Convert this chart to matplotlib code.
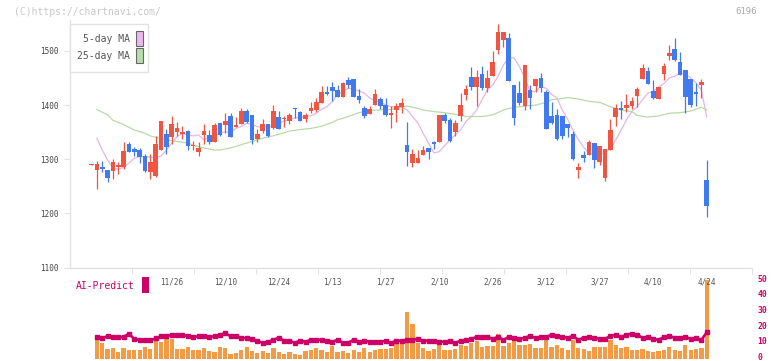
import numpy as np
import matplotlib
matplotlib.use('Agg')
import matplotlib.pyplot as plt
from matplotlib.patches import Rectangle

# daily candles (index 0..115)
opens = [1290, 1280, 1286, 1280, 1279, 1285, 1286, 1328, 1319, 1317, 1307, 1277, 1269, 1318, 1347, 1342,
         1351, 1346, 1352, 1325, 1314, 1344, 1345, 1332, 1367, 1363, 1380, 1360, 1365, 1389, 1382, 1338,
         1352, 1365, 1357, 1378, 1375, 1370, 1395, 1387, 1375, 1389, 1391, 1403, 1424, 1434, 1428, 1415,
         1447, 1448, 1417, 1395, 1384, 1400, 1411, 1400, 1381, 1391, 1397, 1327, 1294, 1294, 1308, 1321,
         1332, 1332, 1382, 1373, 1351, 1380, 1419, 1452, 1434, 1458, 1432, 1454, 1502, 1520, 1524, 1437,
         1423, 1399, 1428, 1436, 1450, 1424, 1380, 1382, 1380, 1365, 1347, 1280, 1308, 1308, 1330, 1295,
         1266, 1317, 1378, 1395, 1395, 1399, 1417, 1448, 1463, 1426, 1411, 1458, 1491, 1504, 1480, 1465,
         1448, 1424, 1437, 1262]
highs = [1291, 1297, 1297, 1280, 1300, 1295, 1331, 1332, 1323, 1321, 1309, 1310, 1343, 1371, 1356, 1380,
         1369, 1362, 1354, 1334, 1331, 1365, 1354, 1367, 1367, 1386, 1386, 1378, 1395, 1393, 1382, 1355,
         1374, 1365, 1400, 1389, 1379, 1386, 1395, 1389, 1385, 1406, 1413, 1435, 1435, 1443, 1437, 1442,
         1451, 1449, 1430, 1399, 1399, 1430, 1415, 1413, 1399, 1404, 1413, 1369, 1319, 1317, 1325, 1321,
         1334, 1382, 1386, 1376, 1373, 1423, 1437, 1471, 1465, 1472, 1465, 1500, 1550, 1535, 1533, 1437,
         1445, 1474, 1437, 1448, 1460, 1428, 1406, 1393, 1380, 1365, 1352, 1293, 1315, 1336, 1330, 1325,
         1319, 1375, 1402, 1408, 1421, 1415, 1434, 1476, 1471, 1447, 1434, 1478, 1511, 1524, 1498, 1465,
         1448, 1441, 1448, 1299]
lows = [1289, 1246, 1277, 1259, 1264, 1272, 1283, 1314, 1307, 1294, 1277, 1263, 1267, 1318, 1310, 1329,
        1343, 1338, 1318, 1317, 1307, 1329, 1329, 1331, 1343, 1348, 1341, 1359, 1365, 1367, 1329, 1331,
        1348, 1341, 1355, 1356, 1359, 1365, 1376, 1371, 1369, 1385, 1387, 1403, 1419, 1408, 1415, 1415,
        1432, 1415, 1404, 1377, 1384, 1400, 1393, 1380, 1358, 1369, 1386, 1288, 1285, 1294, 1308, 1301,
        1319, 1332, 1367, 1332, 1343, 1371, 1410, 1428, 1399, 1428, 1424, 1454, 1495, 1508, 1445, 1364,
        1400, 1391, 1393, 1424, 1424, 1356, 1365, 1335, 1338, 1341, 1299, 1266, 1295, 1308, 1284, 1290,
        1260, 1317, 1362, 1375, 1387, 1393, 1397, 1448, 1439, 1411, 1411, 1447, 1483, 1482, 1456, 1386,
        1397, 1399, 1413, 1194]
closes = [1290, 1291, 1283, 1266, 1295, 1290, 1315, 1314, 1314, 1305, 1279, 1295, 1328, 1371, 1322, 1366,
          1358, 1351, 1325, 1327, 1321, 1352, 1332, 1363, 1344, 1371, 1341, 1363, 1389, 1368, 1336, 1347,
          1365, 1343, 1389, 1356, 1377, 1382, 1392, 1371, 1381, 1395, 1406, 1424, 1421, 1426, 1415, 1441,
          1437, 1415, 1410, 1380, 1393, 1421, 1399, 1381, 1386, 1399, 1404, 1314, 1310, 1303, 1317, 1314,
          1328, 1382, 1371, 1334, 1367, 1400, 1430, 1434, 1452, 1432, 1450, 1480, 1535, 1535, 1445, 1376,
          1404, 1474, 1413, 1448, 1432, 1356, 1367, 1338, 1343, 1358, 1301, 1286, 1303, 1332, 1298, 1325,
          1319, 1354, 1395, 1391, 1400, 1408, 1430, 1469, 1439, 1413, 1434, 1472, 1496, 1483, 1456, 1415,
          1400, 1421, 1443, 1214]

# 5-day MA (days 1..115)
ma5 = [1339, 1317, 1299, 1283, 1282, 1285, 1293, 1302, 1305, 1305, 1304, 1303, 1306, 1317, 1330,
       1342, 1348, 1345, 1343, 1345, 1336, 1341, 1343, 1349, 1350, 1351, 1357, 1361, 1366, 1365,
       1360, 1360, 1360, 1362, 1366, 1371, 1373, 1376, 1378, 1379, 1380, 1385, 1392, 1397, 1406,
       1419, 1425, 1431, 1430, 1426, 1422, 1413, 1408, 1406, 1400, 1397, 1397, 1396, 1391, 1379,
       1367, 1348, 1330, 1312, 1314, 1325, 1336, 1345, 1354, 1370, 1379, 1391, 1410, 1428, 1437,
       1453, 1474, 1488, 1487, 1471, 1450, 1425, 1425, 1434, 1431, 1420, 1413, 1391, 1374, 1354,
       1336, 1322, 1311, 1308, 1310, 1312, 1320, 1336, 1354, 1373, 1388, 1397, 1410, 1422, 1425,
       1433, 1440, 1450, 1453, 1459, 1458, 1450, 1441, 1428, 1378]

# 25-day MA
ma25_days = [1, 3, 4, 6, 8, 10, 11, 14, 16, 18, 19, 21, 23, 24, 26, 27, 29, 30, 32, 33, 35, 37, 39,
             41, 43, 45, 46, 48, 50, 52, 54, 56, 58, 59, 61, 62, 64, 66, 68, 70, 72, 73, 75, 77, 79,
             81, 83, 85, 86, 88, 89, 91, 93, 95, 97, 99, 101, 102, 104, 106, 108, 110, 112, 114, 115]
ma25 = [1392, 1382, 1372, 1364, 1354, 1348, 1343, 1336, 1333, 1330, 1326, 1321, 1317, 1317, 1321,
        1324, 1330, 1333, 1339, 1341, 1346, 1352, 1355, 1357, 1361, 1368, 1373, 1379, 1386, 1390,
        1391, 1392, 1397, 1398, 1394, 1391, 1388, 1386, 1383, 1379, 1379, 1379, 1382, 1391, 1396,
        1398, 1400, 1405, 1410, 1412, 1414, 1411, 1407, 1405, 1397, 1391, 1388, 1381, 1378, 1380,
        1385, 1386, 1389, 1396, 1391]

# lower panel (days 1..115)
volume = [13.8, 10, 6.2, 6.9, 4.4, 6.9, 5.6, 5.6, 5.6, 7.5, 6.2, 12.5, 10.7, 12.5, 12.8, 6.2, 6.2,
          7.5, 5.6, 5.6, 6.9, 5, 4.4, 7.5, 6.9, 3.1, 3.8, 5.6, 7.5, 5, 3.8, 5, 3.8, 6.9, 4.4, 3.1,
          4.4, 3.1, 2.5, 5, 5.6, 6.9, 5.6, 4.4, 8, 4.4, 5, 3.8, 5.6, 4.4, 6.9, 4.4, 5.6, 6.2, 6.2,
          6.9, 9.4, 11.9, 29.9, 21.9, 10, 6.9, 5, 6.2, 8.8, 5.6, 5.6, 6.2, 8.8, 8.1, 10, 11.2, 7.5,
          8.1, 8.1, 15.6, 8.1, 10, 14.4, 8.8, 8.8, 9.4, 6.9, 6.9, 11.9, 7.5, 8.8, 6.9, 5.6, 11.9,
          6.9, 6.2, 5, 7.5, 7.5, 7.5, 11.9, 8.8, 6.9, 7.5, 5.6, 5.6, 6.2, 5, 4.4, 5, 5.6, 7.5, 5.6,
          5, 8.8, 5.6, 6.2, 6.9, 50]
ai_predict = [12.5, 11.7, 12.9, 12.3, 12.3, 12.5, 14.4, 11.2, 10.4, 10.4, 10.4, 11.5, 12.9, 12.9,
              13.8, 13.8, 13.8, 12.9, 12.3, 12.9, 12.9, 12.3, 13.1, 13.8, 14.8, 12.9, 12.9, 11.9,
              11.7, 11, 9.8, 8.8, 9.4, 10.6, 11.9, 10, 10, 8.8, 10, 9.4, 10.6, 10.6, 10.6, 10, 9.4,
              10.6, 8.8, 8.8, 10.6, 9.4, 10, 9.4, 9.4, 9.4, 10, 8.8, 10, 10, 10.6, 10.6, 11.2, 10,
              10, 10, 9.4, 9.4, 10, 8.8, 10, 10.6, 11.2, 12.5, 12.5, 12.5, 11.2, 12.5, 10.6, 12.5,
              11.9, 11.2, 11.9, 13.1, 11.9, 12.5, 12.5, 13.8, 13.1, 12.5, 11.9, 13.1, 10.6, 11.9,
              12.5, 11.9, 11.2, 11.2, 13.1, 13.8, 12.5, 13.8, 14.4, 13.8, 11.9, 12.5, 11.2, 10.6,
              12.5, 13.1, 11.9, 11.9, 12.5, 11.2, 11.9, 10.6, 15.4]

date_days = [15, 25, 35, 45, 55, 65, 75, 85, 95, 105, 115]
date_labels = ['11/26', '12/10', '12/24', '1/13', '1/27', '2/10', '2/26', '3/12', '3/27', '4/10', '4/24']

UP, DOWN = '#f05542', '#4179ef'
MONO = 'DejaVu Sans Mono'
W, H = 772, 361


def fx(x):
    return x / W


def fy(y):
    return 1 - y / H


days = np.arange(len(opens))
o, h, l, c = map(np.array, (opens, highs, lows, closes))
colors = [UP if cc >= oo else DOWN for oo, cc in zip(o, c)]
xlim = (-4.02, 123.46)

fig = plt.figure(figsize=(W / 100, H / 100), dpi=100)
ax2 = fig.add_axes([fx(70), fy(356.5), fx(682), 78.5 / H])
ax = fig.add_axes([fx(70), fy(267.7), fx(682), 247.7 / H])
ax2.patch.set_alpha(0)

# moving averages under the candles
ax.plot(days[1:], ma5, color='#e6b4ea', lw=0.9, zorder=1)
ax.plot(ma25_days, ma25, color='#b6dca6', lw=0.9, zorder=1)

ax.vlines(days, l, h, colors=colors, lw=0.9, zorder=2)
ax.bar(days, np.maximum(np.abs(c - o), 1.2), bottom=np.minimum(o, c), width=0.86,
       color=colors, zorder=3)

ax.set_xlim(*xlim)
ax.set_ylim(1100, 1557)
for s in ('top', 'right'):
    ax.spines[s].set_visible(False)
for s in ('left', 'bottom'):
    ax.spines[s].set_color('#e2e2e2')
    ax.spines[s].set_linewidth(1)
ax.set_xticks(np.linspace(xlim[0], xlim[1], 12)[1:])
ax.tick_params(axis='x', length=4.5, color='#e2e2e2', labelbottom=False)
ax.set_yticks([1100, 1200, 1300, 1400, 1500])
ax.tick_params(axis='y', length=4, color='#e2e2e2', pad=4, labelsize=5.5, labelcolor='#444')
for t in ax.get_yticklabels():
    t.set_family(MONO)

for d, lab in zip(date_days, date_labels):
    ax.text(d, -0.058, lab, transform=ax.get_xaxis_transform(), ha='center', va='center',
            fontsize=5.5, family=MONO, color='#555', clip_on=False)

# lower panel
ax2.bar(days[1:], volume, width=0.8, bottom=-1.5, color='#f29a44', zorder=1)
ax2.plot(days[1:], ai_predict, color='#cc0066', lw=1.9, marker='s', ms=2.2, zorder=2)
ax2.set_xlim(*xlim)
ax2.set_ylim(0, 50)
for s in ax2.spines.values():
    s.set_visible(False)
ax2.set_xticks([])
ax2.yaxis.tick_right()
ax2.set_yticks([0, 10, 20, 30, 40, 50])
ax2.tick_params(axis='y', length=0, pad=4, labelsize=5.8, labelcolor='#cc0066')
for t in ax2.get_yticklabels():
    t.set_family(MONO)
    t.set_fontweight('bold')
for b in ax2.patches:
    b.set_clip_on(False)

# legend box
fig.patches.append(Rectangle((fx(70), fy(72)), fx(78), 48 / H, transform=fig.transFigure,
                             facecolor='white', edgecolor='#e2e2e2', lw=1, zorder=5))
fig.patches.append(Rectangle((fx(136), fy(46)), fx(6.5), 15 / H, transform=fig.transFigure,
                             facecolor='#eab8ec', edgecolor='#666', lw=0.8, zorder=6))
fig.patches.append(Rectangle((fx(136), fy(63)), fx(6.5), 15 / H, transform=fig.transFigure,
                             facecolor='#b8dca8', edgecolor='#666', lw=0.8, zorder=6))
fig.text(fx(130), fy(39), '5-day MA', ha='right', va='center', fontsize=7, family=MONO,
         color='#555', zorder=7)
fig.text(fx(130), fy(56), '25-day MA', ha='right', va='center', fontsize=7, family=MONO,
         color='#555', zorder=7)

fig.text(fx(76), fy(286), 'AI-Predict', ha='left', va='center', fontsize=7, family=MONO,
         color='#cc0066')
fig.patches.append(Rectangle((fx(142), fy(293)), fx(7), 16 / H, transform=fig.transFigure,
                             facecolor='#cc0066', edgecolor='none'))

fig.text(fx(14), fy(12), '(C)https://chartnavi.com/', ha='left', va='center', fontsize=7,
         family=MONO, color='#c8c8c8')
fig.text(fx(757), fy(12), '6196', ha='right', va='center', fontsize=6.5, family=MONO,
         color='#aaaaaa')

fig.savefig('out.png', dpi=100)
